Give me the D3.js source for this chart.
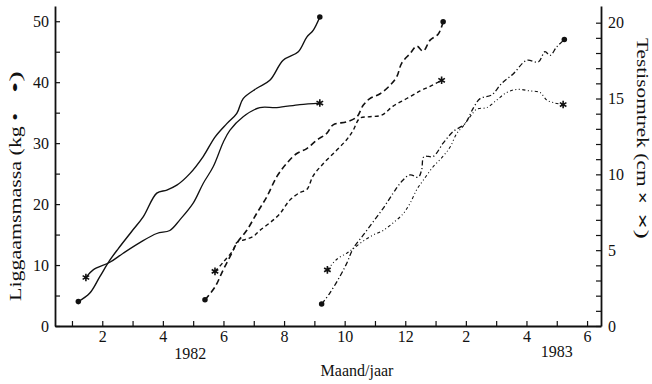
<!DOCTYPE html>
<html>
<head>
<meta charset="utf-8">
<script src="https://cdn.jsdelivr.net/npm/d3@7"></script>
<style>
  html, body { margin: 0; padding: 0; background: #fff; }
  svg { display: block; }
  svg text { font-family: "Liberation Serif", "DejaVu Serif", serif !important; fill: #111; }
</style>
</head>
<body>
<svg id="graph" width="652" height="384"></svg>
<script>
// months counted from jan 1982 (13 = jan 1983)
// groep A : solid, groep B : dashed, groep C : dash-dot
const maandA_kg = [1.21,1.59,1.92,2.25,2.53,2.97,3.35,3.80,4.13,4.46,4.89,5.33,5.72,6.11,6.44,6.65,7.10,7.53,7.97,8.47,8.75,8.96,9.18];
const massaA    = [4.0,5.4,8.1,10.8,12.7,15.5,17.9,21.8,22.3,23.1,25.0,27.8,31.0,33.2,34.9,37.3,39.0,40.3,43.6,45.0,47.4,48.5,50.7];
const maandA_cm = [1.46,1.70,2.25,2.69,3.24,3.80,4.23,4.56,5.00,5.33,5.66,5.99,6.21,6.65,7.20,7.76,8.52,9.18];
const testisA   = [3.2,3.7,4.2,4.8,5.5,6.1,6.3,7.0,8.1,9.4,10.5,12.1,12.9,13.8,14.4,14.4,14.6,14.7];

const maandB_kg = [5.39,5.72,5.99,6.27,6.44,6.77,7.10,7.43,7.76,8.09,8.42,8.75,9.08,9.41,9.62,10.07,10.40,10.61,10.83,11.17,11.50,11.72,11.88,12.16,12.38,12.59,12.82,13.09,13.25];
const massaB    = [4.3,6.4,9.2,11.9,13.6,15.7,18.5,21.2,24.5,26.7,28.3,29.1,30.5,31.6,33.0,33.5,34.3,36.2,37.3,38.1,39.5,40.9,43.1,44.7,45.9,45.1,46.9,47.9,49.9];
const maandB_cm = [5.72,5.99,6.32,6.44,6.71,6.98,7.20,7.53,7.86,8.19,8.52,8.75,8.96,9.29,9.74,10.07,10.28,10.50,10.83,11.22,11.60,12.05,12.49,12.82,13.20];
const testisB   = [3.6,4.2,5.0,5.5,5.7,5.9,6.3,6.8,7.4,8.3,8.8,9.0,9.9,10.7,11.6,12.3,12.9,13.7,13.8,13.9,14.5,15.0,15.5,15.8,16.2];

const maandC_kg = [9.24,9.51,9.84,10.07,10.28,10.61,10.94,11.27,11.60,11.88,12.16,12.43,12.54,12.62,12.92,13.25,13.58,13.97,14.24,14.47,14.85,15.18,15.57,16.01,16.39,16.61,16.78,17.00,17.25];
const massaC    = [3.6,5.4,8.1,10.3,12.7,14.9,17.1,19.3,21.8,23.7,24.8,24.4,25.6,27.8,27.8,30.0,31.9,33.2,35.7,37.3,37.9,39.8,41.4,43.6,43.3,45.0,44.4,45.8,47.0];
const maandC_cm = [9.43,9.74,10.07,10.28,10.61,10.94,11.27,11.60,11.93,12.16,12.38,12.59,12.92,13.25,13.48,13.70,13.92,14.14,14.36,14.69,15.02,15.35,15.68,16.12,16.45,16.67,16.94,17.21];
const testisC   = [3.7,4.4,4.8,5.1,5.6,6.0,6.3,6.8,7.4,8.1,9.0,9.6,10.5,11.2,11.8,12.7,13.2,13.8,14.3,14.4,14.9,15.4,15.6,15.5,15.4,14.9,14.7,14.6];

const maandTicks = d3.range(1, 19);
const kgTicks = d3.range(0, 51, 5);
const cmTicks = d3.range(0, 21, 1);
const jaren = [[4.9, "1982"], [17.0, "1983"]];

var svg = d3.select("#graph");

var scX  = d3.scaleLinear().domain([0.44, 18.46]).range([55, 601]);
var scKg = d3.scaleLinear().domain([0, 52.5]).range([326, 6]);
var scCm = d3.scaleLinear().domain([0, 21.1]).range([326, 6]);

// axes, ticks pointing inward
var ax = svg.append("g").attr("transform", "translate(0,326)")
  .call(d3.axisBottom(scX).tickValues(maandTicks).tickSize(-5).tickSizeOuter(0).tickPadding(5)
    .tickFormat(d => d % 2 == 0 ? (d - 1) % 12 + 1 : ""));

var ayl = svg.append("g").attr("transform", "translate(55,0)")
  .call(d3.axisLeft(scKg).tickValues(kgTicks).tickSize(-5).tickSizeOuter(0).tickPadding(6)
    .tickFormat(d => d % 10 == 0 ? d : ""));

var ayr = svg.append("g").attr("transform", "translate(601,0)")
  .call(d3.axisRight(scCm).tickValues(cmTicks).tickSize(-5).tickSizeOuter(0).tickPadding(7)
    .tickFormat(d => d % 5 == 0 ? d : ""));

[ax, ayl, ayr].forEach(g => {
  g.attr("font-family", null).attr("font-size", null);
  g.select(".domain").attr("stroke", "#111").attr("stroke-width", 1.8);
  g.selectAll(".tick line").attr("stroke", "#111").attr("stroke-width", 1.2);
  g.selectAll(".tick text").attr("font-size", 16).attr("fill", "#111");
});

svg.selectAll("text.jaar").data(jaren).enter().append("text").attr("class", "jaar")
  .attr("x", d => scX(d[0])).attr("y", (d, i) => i == 0 ? 359 : 357)
  .attr("text-anchor", "middle").attr("font-size", 16).text(d => d[1]);

svg.append("text").attr("x", 357).attr("y", 376).attr("text-anchor", "middle")
  .attr("font-size", 16).text("Maand/jaar");

// left title
var tl = svg.append("g").attr("transform", "translate(21,0) rotate(-90)");
tl.append("text").attr("x", -301).attr("y", 0).attr("font-size", 17)
  .attr("textLength", 188).attr("lengthAdjust", "spacingAndGlyphs").text("Liggaamsmassa (kg •");
tl.append("text").attr("x", -93).attr("y", 0).attr("font-size", 17)
  .attr("textLength", 22).attr("lengthAdjust", "spacingAndGlyphs").text("•)");

// right title
var tr = svg.append("g").attr("transform", "translate(637,0) rotate(90)");
var t1 = tr.append("text").attr("x", 38).attr("y", 0).attr("font-size", 17)
  .attr("textLength", 166).attr("lengthAdjust", "spacingAndGlyphs");
t1.append("tspan").text("Testisomtrek (cm ");
t1.append("tspan").attr("font-weight", "bold").text("×");
var t2 = tr.append("text").attr("x", 213).attr("y", 0).attr("font-size", 17)
  .attr("textLength", 26).attr("lengthAdjust", "spacingAndGlyphs");
t2.append("tspan").attr("font-weight", "bold").text("×");
t2.append("tspan").text(")");

// series
var reeksen = [
  {m: maandA_kg, v: massaA,  sc: scKg, dash: null,        w: 1.4, sym: "dot"},
  {m: maandA_cm, v: testisA, sc: scCm, dash: null,        w: 1.3, sym: "ster"},
  {m: maandB_kg, v: massaB,  sc: scKg, dash: "6,3.5",     w: 1.6, sym: "dot"},
  {m: maandB_cm, v: testisB, sc: scCm, dash: "4,3",       w: 1.4, sym: "ster"},
  {m: maandC_kg, v: massaC,  sc: scKg, dash: "5,2.5,1.2,2.5", w: 1.3, sym: "dot"},
  {m: maandC_cm, v: testisC, sc: scCm, dash: "3,2.5,1,2.5,1,2.5", w: 1.1, sym: "ster"}
];

var line = d3.line().curve(d3.curveCatmullRom.alpha(0.5));

svg.selectAll("path.reeks").data(reeksen).enter().append("path").attr("class", "reeks")
  .attr("d", r => line(r.m.map((m, i) => [scX(m), r.sc(r.v[i])])))
  .attr("fill", "none").attr("stroke", "#111")
  .attr("stroke-width", r => r.w)
  .attr("stroke-dasharray", r => r.dash);

var eindpunten = [];
reeksen.forEach(r => {
  eindpunten.push([scX(r.m[0]), r.sc(r.v[0]), r.sym]);
  eindpunten.push([scX(r.m[r.m.length - 1]), r.sc(r.v[r.v.length - 1]), r.sym]);
});

var dot = d3.symbol().type(d3.symbolCircle).size(24);
var ster = d3.symbol().type(d3.symbolAsterisk).size(40);

svg.selectAll("path.eind").data(eindpunten).enter().append("path").attr("class", "eind")
  .attr("transform", d => `translate(${d[0]},${d[1]})`)
  .attr("d", d => d[2] == "dot" ? dot() : ster())
  .attr("fill", d => d[2] == "dot" ? "#111" : "none")
  .attr("stroke", "#111")
  .attr("stroke-width", d => d[2] == "dot" ? 0 : 1.6);
</script>
</body>
</html>
